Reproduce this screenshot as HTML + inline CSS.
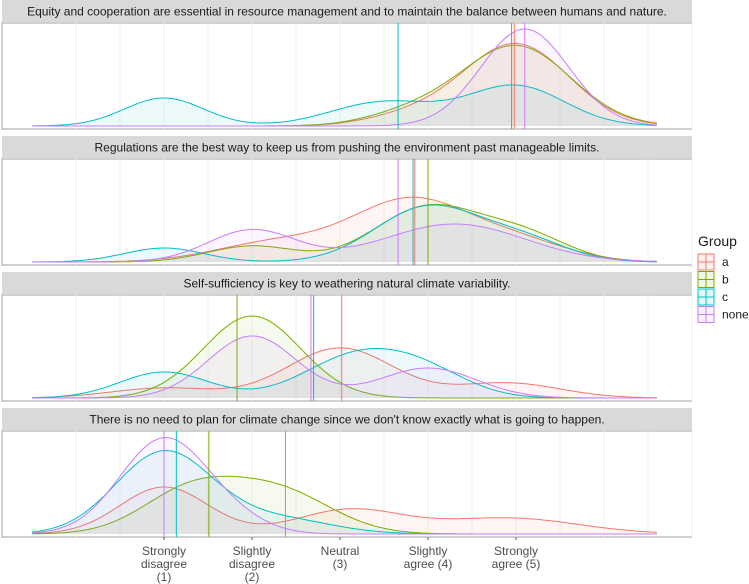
<!DOCTYPE html>
<html><head><meta charset="utf-8"><style>
body{margin:0;background:#fff;font-family:"Liberation Sans",Arial,sans-serif}
svg{display:block}
</style></head><body>
<svg id="chart" width="749" height="584" xmlns="http://www.w3.org/2000/svg"></svg>
<script>
const groups = ["a","b","c","none"];
const colors = ["#F8766D","#7CAE00","#00BFC4","#C77CFF"];
const questions = [
 "Equity and cooperation are essential in resource management and to maintain the balance between humans and nature.",
 "Regulations are the best way to keep us from pushing the environment past manageable limits.",
 "Self-sufficiency is key to weathering natural climate variability.",
 "There is no need to plan for climate change since we don't know exactly what is going to happen."
];
const tickValues = [1,2,3,4,5];
const tickLabels = [["Strongly","disagree","(1)"],["Slightly","disagree","(2)"],["Neutral","(3)"],["Slightly","agree (4)"],["Strongly","agree (5)"]];
// density components per question per group: [center, peak height, sd]
const q1Components = [
 [[5.0,0.82,0.6],[3.8,0.1,0.5]],
 [[5.0,0.8,0.62],[3.8,0.12,0.5]],
 [[1.0,0.28,0.45],[3.5,0.24,0.6],[5.0,0.4,0.55]],
 [[5.1,0.97,0.5]]
];
const q2Components = [
 [[2.3,0.2,0.7],[3.8,0.6,0.65],[5.0,0.2,0.6]],
 [[2.0,0.16,0.5],[4.0,0.55,0.6],[5.1,0.25,0.5]],
 [[1.0,0.14,0.45],[4.0,0.55,0.6],[5.1,0.2,0.5]],
 [[2.0,0.32,0.5],[4.3,0.38,0.8]]
];
const q3Components = [
 [[1.0,0.1,0.6],[3.0,0.5,0.6],[4.9,0.15,0.6]],
 [[2.0,0.82,0.55]],
 [[1.0,0.26,0.5],[3.2,0.42,0.6],[4.0,0.2,0.5]],
 [[2.0,0.62,0.5],[4.0,0.3,0.55]]
];
const q4Components = [
 [[1.0,0.47,0.5],[3.1,0.24,0.6],[4.9,0.16,0.8]],
 [[1.3,0.42,0.55],[2.3,0.42,0.6]],
 [[1.0,0.82,0.55],[2.3,0.15,0.6]],
 [[1.0,0.95,0.5],[1.8,0.1,0.4]]
];
const q1Means = [4.98,4.95,3.66,5.1];
const q2Means = [3.85,4.0,3.83,3.66];
const q3Means = [3.02,1.83,2.7,2.67];
const q4Means = [2.38,1.51,1.14,1.0];

const allComponents=[q1Components,q2Components,q3Components,q4Components];
const allMeans=[q1Means,q2Means,q3Means,q4Means];
const NS="http://www.w3.org/2000/svg";
const svg=document.getElementById('chart');
function mk(t,a,p){const e=document.createElementNS(NS,t);for(const k in a)e.setAttribute(k,a[k]);(p||svg).appendChild(e);return e;}
const PL=2,PR=692;
const xs=v=>76+88*v;
const panelTops=[0,136,272,408];
const STRIP=22,PH=106;
function dens(comps,x){let s=0;for(const c of comps)s+=c[1]*Math.exp(-0.5*((x-c[0])/c[2])**2);return s;}
questions.forEach((q,i)=>{
 const top=panelTops[i];
 const g=mk('g',{});
 
 
 const st=mk('rect',{x:PL,y:top,width:PR-PL,height:STRIP,fill:'#d9d9d9'},g);
 
 
 const tx=mk('text',{x:(PL+PR)/2,y:top+15.5,'text-anchor':'middle','font-size':'12',fill:'#1a1a1a'},g);
 tx.textContent=q;
 
 
 const pt=top+STRIP+1, pb=pt+PH, base=pb-3;
 mk('rect',{x:PL,y:pt,width:PR-PL,height:PH,fill:'#fff',stroke:'#a0a0a0','stroke-width':1},g);
 for(let v=0;v<=7;v+=0.5){const x=xs(v);if(x<PL||x>PR)continue;
   mk('line',{x1:x,x2:x,y1:pt,y2:pb,stroke:'#f2f2f2','stroke-width':1},g);}
 const ys=h=>base-h*100;
 allComponents[i].forEach((comps,gi)=>{
   let d='',x0=-0.5,x1=6.6;
   for(let k=0;k<=200;k++){const v=x0+(x1-x0)*k/200;d+=(k?'L':'M')+xs(v).toFixed(1)+','+ys(dens(comps,v)).toFixed(1);}
   const area=mk('path',{d:d+'L'+xs(x1)+','+base+'L'+xs(x0)+','+base+'Z',fill:colors[gi],'fill-opacity':0.07,stroke:'none'},g);
   
   
   const ln=mk('path',{d:d,fill:'none',stroke:colors[gi],'stroke-width':1},g);
   
   
 });
 allMeans[i].forEach((m,gi)=>{
   const vl=mk('line',{x1:xs(m),x2:xs(m),y1:pt,y2:pb,stroke:colors[gi],'stroke-width':1},g);
   
   
 });
});
const axisY=537;
tickValues.forEach((v,i)=>{
 const x=xs(v);
 mk('line',{x1:x,x2:x,y1:axisY,y2:axisY+3,stroke:'#555','stroke-width':1});
 const t=mk('text',{x:x,'text-anchor':'middle','font-size':'12',fill:'#4d4d4d'});
 
 
 tickLabels[i].forEach((s,j)=>{const ts=mk('tspan',{x:x,y:axisY+18+j*13},t);ts.textContent=s;});
});
const lg=mk('g',{});


const lt=mk('text',{x:698,y:246,'font-size':'14',fill:'#1a1a1a'},lg);lt.textContent='Group';
groups.forEach((gname,gi)=>{
 const y=254+gi*17.5;
 const r=mk('rect',{x:698,y:y,width:16,height:16,fill:colors[gi],'fill-opacity':0.1,stroke:colors[gi],'stroke-width':1},lg);
 
 
 mk('line',{x1:698,x2:714,y1:y+8,y2:y+8,stroke:colors[gi]},lg);
 mk('line',{x1:706,x2:706,y1:y,y2:y+16,stroke:colors[gi]},lg);
 const t=mk('text',{x:722,y:y+12,'font-size':'12',fill:'#1a1a1a'},lg);t.textContent=gname;
 
 
});
</script>
</body></html>
